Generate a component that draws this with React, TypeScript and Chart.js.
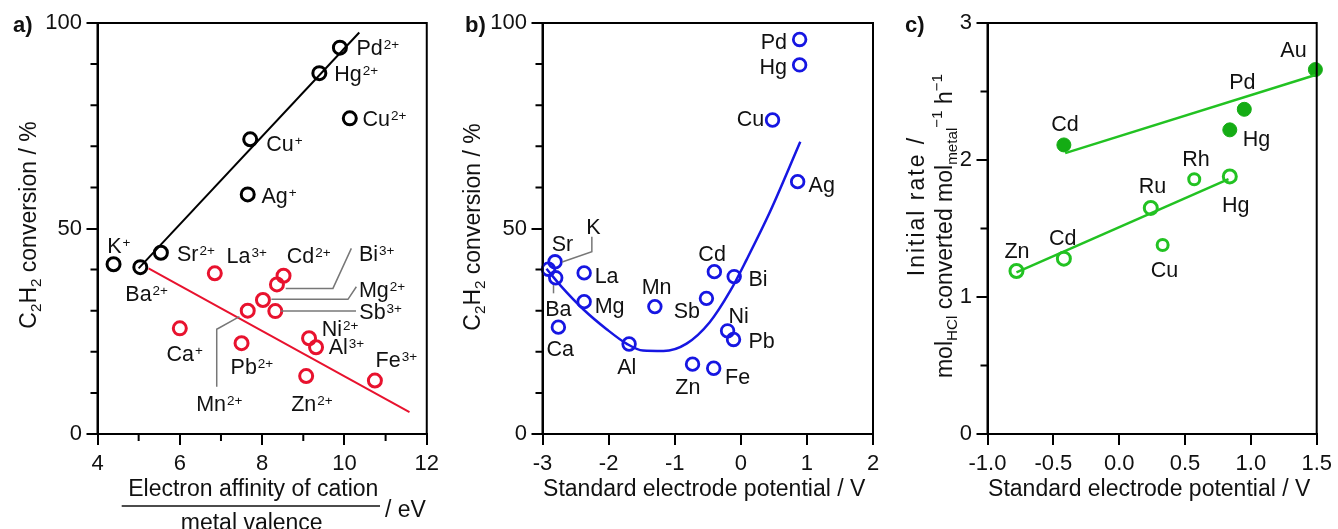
import React, { useEffect, useRef } from 'react';
import { Chart, registerables } from 'chart.js';

Chart.register(...registerables);

const FONT = "'Liberation Sans', Arial, Helvetica, sans-serif";
const RED = '#e8122e';
const BLUE = '#1616e2';
const GREEN = '#22c222';
const GREEN_FILL = '#14ac14';
const INK = '#111111';

// ---------------- Panel a data ----------------
const aBlackNames = ['Pd', 'Hg', 'Cu', 'Cu', 'Ag', 'Sr', 'K', 'Ba'];
const aBlackCharges = ['2+', '2+', '2+', '+', '+', '2+', '+', '2+'];
const aBlackX = [9.89, 9.39, 10.13, 7.71, 7.65, 5.54, 4.39, 5.04];
const aBlackY = [94.0, 87.8, 76.8, 71.7, 58.3, 44.1, 41.3, 40.6];

const aRedNames = ['La', 'Cd', 'Bi', 'Mg', 'Mn', 'Sb', 'Ca', 'Ni', 'Al', 'Pb', 'Zn', 'Fe'];
const aRedCharges = ['3+', '2+', '3+', '2+', '2+', '3+', '+', '2+', '3+', '2+', '2+', '3+'];
const aRedX = [6.85, 8.52, 8.36, 8.02, 7.65, 8.32, 6.0, 9.14, 9.31, 7.5, 9.07, 10.74];
const aRedY = [39.1, 38.5, 36.4, 32.6, 30.0, 29.9, 25.7, 23.3, 21.1, 22.1, 14.1, 13.0];

const aBlackFitX = [5.0, 10.36];
const aBlackFitY = [40.3, 97.7];
const aRedFitX = [5.24, 11.58];
const aRedFitY = [40.3, 5.3];

const aXTickLabels = [4, 6, 8, 10, 12];
const aXMinorTicks = [5, 7, 9, 11];
const convYTickLabels = [0, 50, 100];
const convYMinorTicks = [10, 20, 30, 40, 60, 70, 80, 90];

// ---------------- Panel b data ----------------
const bNames = ['Pd', 'Hg', 'Cu', 'Ag', 'Sr', 'K', 'Ba', 'La', 'Mg', 'Ca', 'Al', 'Mn', 'Sb', 'Cd', 'Bi', 'Ni', 'Pb', 'Zn', 'Fe'];
const bX = [0.89, 0.89, 0.48, 0.86, -2.81, -2.91, -2.80, -2.37, -2.37, -2.76, -1.69, -1.30, -0.52, -0.40, -0.10, -0.20, -0.11, -0.73, -0.41];
const bY = [96.0, 89.8, 76.4, 61.4, 41.9, 40.1, 38.0, 39.2, 32.2, 26.0, 21.9, 31.0, 33.0, 39.5, 38.3, 25.1, 23.0, 17.0, 16.0];

const bCurveX = [-2.94, -2.71, -2.38, -2.03, -1.73, -1.48, -1.17, -0.82, -0.47, -0.16, 0.09, 0.44, 0.90];
const bCurveY = [40.2, 35.8, 30.3, 25.5, 22.0, 20.3, 20.2, 22.0, 27.2, 34.8, 42.5, 54.0, 71.1];

const bXTickLabels = [-3, -2, -1, 0, 1, 2];

// ---------------- Panel c data ----------------
const cFilledNames = ['Au', 'Pd', 'Hg', 'Cd'];
const cFilledX = [1.49, 0.95, 0.84, -0.42];
const cFilledY = [2.66, 2.37, 2.22, 2.11];
const cOpenNames = ['Hg', 'Rh', 'Ru', 'Cu', 'Cd', 'Zn'];
const cOpenX = [0.84, 0.57, 0.24, 0.33, -0.42, -0.78];
const cOpenY = [1.88, 1.86, 1.65, 1.38, 1.28, 1.19];

const cFilledFitX = [-0.41, 1.49];
const cFilledFitY = [2.05, 2.62];
const cOpenFitX = [-0.78, 0.83];
const cOpenFitY = [1.18, 1.86];

const cXTickLabels = [-1.0, -0.5, 0.0, 0.5, 1.0, 1.5];
const cYTickLabels = [0, 1, 2, 3];
const cYMinorTicks = [0.5, 1.5, 2.5];

// ---------------- label layout (pixel offsets from the point) ----------------
type Lab = [number, number, string];
const aBlackLabelPos: Lab[] = [
  [16.6, 0, 'left'], [15, 0.5, 'left'], [12.6, 0, 'left'], [16, 4, 'left'],
  [13.7, 0.7, 'left'], [16, 0.6, 'left'], [-6.4, -19.3, 'left'], [-15, 26.2, 'left'],
];
const aRedLabelPos: Lab[] = [
  [11.7, -18.3, 'left'], [3.3, -20.7, 'left'], [82, -31, 'left'], [96, -10.7, 'left'],
  [-51.6, 92.6, 'left'], [84, 0, 'left'], [-13.3, 25, 'left'], [12.7, -10, 'left'],
  [12.6, -0.6, 'left'], [-11, 23.4, 'left'], [-15, 27.3, 'left'], [0.7, -21.4, 'left'],
];
const aRedLeaders: Record<number, number[][]> = {
  2: [[74.4, -36], [56, 4], [8.7, 4]],
  3: [[93.4, -13.3], [85, -0.7], [8.4, -0.7]],
  4: [[-31, 76], [-31, 18.6], [-8.3, 6]],
  5: [[80.7, 0], [5.7, 0]],
};
const bLabelPos: Lab[] = [
  [-12.7, 2.3, 'right'], [-12.7, 1.8, 'right'], [-8.4, -1.7, 'right'], [10.9, 2.7, 'left'],
  [-3.3, -18.4, 'left'], [37.7, -42.5, 'left'], [-10.5, 30.5, 'left'], [10.5, 2.1, 'left'],
  [10.5, 3.3, 'left'], [-11.8, 21.2, 'left'], [-11.9, 22.7, 'left'], [-13.2, -19.9, 'left'],
  [-6.4, 11.6, 'right'], [-16, -18.4, 'left'], [14.2, 1.7, 'left'], [0.8, -15.8, 'left'],
  [14.9, 0.5, 'left'], [-17.3, 22.6, 'left'], [11.4, 8.5, 'left'],
];
const bLeaders: Record<number, number[][]> = {
  5: [[43.4, -32.5], [43.4, -17.5], [13.7, -7.2]],
  6: [[-2.2, 7.2], [-2.2, 15.5]],
};
const cFilledLabelPos: Lab[] = [[-8.8, -20, 'right'], [-15, -28, 'left'], [13, 8, 'left'], [-12.7, -22, 'left']];
const cOpenLabelPos: Lab[] = [[-7.7, 28.3, 'left'], [-12, -21, 'left'], [-12, -23, 'left'], [-12, 24, 'left'], [-15, -21, 'left'], [-12, -21, 'left']];
const cOpenRadii = [6.5, 5.5, 6.5, 5.5, 6.5, 6.5];

// ---------------- drawing helpers ----------------
function pts(xs: number[], ys: number[]) {
  return xs.map((x, i) => ({ x, y: ys[i] }));
}

function drawIon(ctx: CanvasRenderingContext2D, name: string, charge: string, x: number, y: number, align: string) {
  const base = 21.5;
  const sup = 13.5;
  ctx.font = `${base}px ${FONT}`;
  const w1 = ctx.measureText(name).width;
  ctx.font = `${sup}px ${FONT}`;
  const w2 = charge ? ctx.measureText(charge).width + 1 : 0;
  const total = w1 + w2;
  const x0 = align === 'right' ? x - total : x;
  const baseline = y + base * 0.358;
  ctx.fillStyle = INK;
  ctx.textBaseline = 'alphabetic';
  ctx.textAlign = 'left';
  ctx.font = `${base}px ${FONT}`;
  ctx.fillText(name, x0, baseline);
  if (charge) {
    ctx.font = `${sup}px ${FONT}`;
    ctx.fillText(charge, x0 + w1 + 1, baseline - 6);
  }
}

type Run = [string, string];
function drawRuns(ctx: CanvasRenderingContext2D, runs: Run[], cx: number, cy: number, size: number, rot: number, spacing = 0) {
  const small = size * 0.66;
  ctx.save();
  ctx.translate(cx, cy);
  ctx.rotate(rot);
  ctx.fillStyle = INK;
  ctx.textBaseline = 'alphabetic';
  ctx.textAlign = 'left';
  (ctx as any).letterSpacing = `${spacing}px`;
  const widths = runs.map(([t, k]) => {
    ctx.font = `${k === 'n' ? size : small}px ${FONT}`;
    return ctx.measureText(t).width;
  });
  const total = widths.reduce((a, b) => a + b, 0);
  let x = -total / 2;
  const bl = size * 0.358;
  runs.forEach(([t, k], i) => {
    ctx.font = `${k === 'n' ? size : small}px ${FONT}`;
    const dy = k === 'sub' ? size * 0.24 : k === 'sup' ? -size * 0.42 : 0;
    ctx.fillText(t, x, bl + dy);
    x += widths[i];
  });
  ctx.restore();
}

function drawFrame(chart: any, xMinor: number[], yMinor: number[]) {
  const ctx = chart.ctx as CanvasRenderingContext2D;
  const a = chart.chartArea;
  ctx.strokeStyle = '#000';
  ctx.lineWidth = 2;
  ctx.strokeRect(a.left, a.top, a.right - a.left, a.bottom - a.top);
  ctx.beginPath();
  xMinor.forEach((v) => {
    const px = chart.scales.x.getPixelForValue(v);
    ctx.moveTo(px, a.bottom);
    ctx.lineTo(px, a.bottom + 7);
  });
  yMinor.forEach((v) => {
    const py = chart.scales.y.getPixelForValue(v);
    ctx.moveTo(a.left, py);
    ctx.lineTo(a.left - 7, py);
  });
  ctx.stroke();
}

function drawLabels(chart: any, ds: number, names: string[], charges: string[] | null, pos: Lab[]) {
  const meta = chart.getDatasetMeta(ds);
  meta.data.forEach((el: any, i: number) => {
    const [dx, dy, al] = pos[i];
    drawIon(chart.ctx, names[i], charges ? charges[i] : '', el.x + dx, el.y + dy, al);
  });
}

function drawLeaders(chart: any, ds: number, leaders: Record<number, number[][]>) {
  const ctx = chart.ctx as CanvasRenderingContext2D;
  const meta = chart.getDatasetMeta(ds);
  ctx.strokeStyle = '#777';
  ctx.lineWidth = 1.5;
  Object.keys(leaders).forEach((k) => {
    const el = meta.data[Number(k)];
    const path = leaders[Number(k)];
    ctx.beginPath();
    path.forEach(([dx, dy], j) => {
      if (j === 0) ctx.moveTo(el.x + dx, el.y + dy);
      else ctx.lineTo(el.x + dx, el.y + dy);
    });
    ctx.stroke();
  });
}

function drawPanelLetter(ctx: CanvasRenderingContext2D, t: string, x: number) {
  ctx.font = `bold 22px ${FONT}`;
  ctx.fillStyle = INK;
  ctx.textAlign = 'left';
  ctx.textBaseline = 'alphabetic';
  ctx.fillText(t, x, 32);
}

function makeScale(min: number, max: number, values: number[], fmt: (v: number) => string, isX: boolean) {
  return {
    type: 'linear',
    min,
    max,
    afterBuildTicks: (scale: any) => {
      scale.ticks = values.map((v) => ({ value: v }));
    },
    afterFit: (scale: any) => {
      if (isX) scale.height = 95;
      else scale.width = 97.5;
    },
    ticks: {
      font: { family: FONT, size: 22 },
      color: INK,
      padding: isX ? 6 : 4.5,
      autoSkip: false,
      maxRotation: 0,
      minRotation: 0,
      callback: (v: any) => fmt(Number(v)),
    },
    grid: { drawOnChartArea: false, drawTicks: true, tickLength: 11, color: '#000', lineWidth: 2 },
    border: { display: true, color: '#000', width: 2 },
  };
}

function baseOptions(x: any, y: any, right: number) {
  return {
    responsive: false,
    animation: false,
    events: [],
    layout: { padding: { top: 23, right, left: 0, bottom: 0 } },
    plugins: { legend: { display: false }, tooltip: { enabled: false } },
    scales: { x, y },
  };
}

const lineDs = (data: any[], color: string, width: number, extra: any = {}) => ({
  data,
  showLine: true,
  borderColor: color,
  borderWidth: width,
  pointRadius: 0,
  fill: false,
  clip: false,
  ...extra,
});

const pointDs = (data: any[], color: string, radius: any, bw: number, fillColor = 'rgba(0,0,0,0)') => ({
  data,
  showLine: false,
  borderColor: color,
  backgroundColor: fillColor,
  pointRadius: radius,
  pointBorderWidth: bw,
  pointBackgroundColor: fillColor,
  pointBorderColor: color,
  clip: false,
});

function configA() {
  const deco = {
    id: 'decoA',
    afterDraw(chart: any) {
      const ctx = chart.ctx as CanvasRenderingContext2D;
      ctx.save();
      drawFrame(chart, aXMinorTicks, convYMinorTicks);
      drawLeaders(chart, 3, aRedLeaders);
      drawLabels(chart, 2, aBlackNames, aBlackCharges, aBlackLabelPos);
      drawLabels(chart, 3, aRedNames, aRedCharges, aRedLabelPos);
      drawRuns(ctx, [['C', 'n'], ['2', 'sub'], ['H', 'n'], ['2', 'sub'], [' conversion / %', 'n']], 27.7, 225, 23, -Math.PI / 2);
      // fraction title
      ctx.fillStyle = INK;
      ctx.font = `23px ${FONT}`;
      ctx.textAlign = 'center';
      ctx.textBaseline = 'alphabetic';
      ctx.fillText('Electron affinity of cation', 253.3, 487.3 + 23 * 0.358);
      ctx.fillText('metal valence', 251.7, 521.7 + 23 * 0.358);
      ctx.textAlign = 'left';
      ctx.fillText('/ eV', 385, 508.3 + 23 * 0.358);
      ctx.strokeStyle = '#111';
      ctx.lineWidth = 1.5;
      ctx.beginPath();
      ctx.moveTo(121.7, 506);
      ctx.lineTo(380, 506);
      ctx.stroke();
      drawPanelLetter(ctx, 'a)', 13);
      ctx.restore();
    },
  };
  return {
    type: 'scatter',
    data: {
      datasets: [
        lineDs(pts(aBlackFitX, aBlackFitY), '#000', 2),
        lineDs(pts(aRedFitX, aRedFitY), RED, 2),
        pointDs(pts(aBlackX, aBlackY), '#000', 6.5, 3),
        pointDs(pts(aRedX, aRedY), RED, 6.5, 3),
      ],
    },
    options: baseOptions(
      makeScale(4, 12, aXTickLabels, (v) => String(v), true),
      makeScale(0, 100, convYTickLabels, (v) => String(v), false),
      17,
    ),
    plugins: [deco],
  };
}

function configB() {
  const deco = {
    id: 'decoB',
    afterDraw(chart: any) {
      const ctx = chart.ctx as CanvasRenderingContext2D;
      ctx.save();
      drawFrame(chart, [], convYMinorTicks);
      drawLeaders(chart, 1, bLeaders);
      drawLabels(chart, 1, bNames, null, bLabelPos);
      drawRuns(ctx, [['C', 'n'], ['2', 'sub'], ['H', 'n'], ['2', 'sub'], [' conversion / %', 'n']], 26.7, 227, 23, -Math.PI / 2);
      drawRuns(ctx, [['Standard electrode potential / V', 'n']], 259.2, 488, 23, 0);
      drawPanelLetter(ctx, 'b)', 20);
      ctx.restore();
    },
  };
  return {
    type: 'scatter',
    data: {
      datasets: [
        lineDs(pts(bCurveX, bCurveY), BLUE, 2.5, { cubicInterpolationMode: 'monotone' }),
        pointDs(pts(bX, bY), BLUE, 6.3, 2.8),
      ],
    },
    options: baseOptions(
      makeScale(-3, 2, bXTickLabels, (v) => String(v), true),
      makeScale(0, 100, convYTickLabels, (v) => String(v), false),
      17,
    ),
    plugins: [deco],
  };
}

function configC() {
  const deco = {
    id: 'decoC',
    afterDraw(chart: any) {
      const ctx = chart.ctx as CanvasRenderingContext2D;
      ctx.save();
      drawFrame(chart, [], cYMinorTicks);
      drawLabels(chart, 2, cFilledNames, null, cFilledLabelPos);
      drawLabels(chart, 3, cOpenNames, null, cOpenLabelPos);
      drawRuns(ctx, [['Initial rate /', 'n']], 25.7, 206, 23, -Math.PI / 2, 2);
      drawRuns(
        ctx,
        [['mol', 'n'], ['HCl', 'sub'], [' converted mol', 'n'], ['metal', 'sub'], ['\u22121', 'sup'], [' h', 'n'], ['\u22121', 'sup']],
        53.3,
        226,
        23,
        -Math.PI / 2,
      );
      drawRuns(ctx, [['Standard electrode potential / V', 'n']], 259.2, 488, 23, 0);
      drawPanelLetter(ctx, 'c)', 15);
      ctx.restore();
    },
  };
  return {
    type: 'scatter',
    data: {
      datasets: [
        lineDs(pts(cFilledFitX, cFilledFitY), GREEN, 2.5),
        lineDs(pts(cOpenFitX, cOpenFitY), GREEN, 2.5),
        pointDs(pts(cFilledX, cFilledY), GREEN_FILL, 7, 1, GREEN_FILL),
        pointDs(pts(cOpenX, cOpenY), GREEN, cOpenRadii, 3),
      ],
    },
    options: baseOptions(
      makeScale(-1, 1.5, cXTickLabels, (v) => v.toFixed(1), true),
      makeScale(0, 3, cYTickLabels, (v) => String(v), false),
      20,
    ),
    plugins: [deco],
  };
}

export default function App() {
  const refA = useRef<HTMLCanvasElement>(null);
  const refB = useRef<HTMLCanvasElement>(null);
  const refC = useRef<HTMLCanvasElement>(null);

  useEffect(() => {
    const charts = [
      new Chart(refA.current as HTMLCanvasElement, configA() as any),
      new Chart(refB.current as HTMLCanvasElement, configB() as any),
      new Chart(refC.current as HTMLCanvasElement, configC() as any),
    ];
    return () => charts.forEach((c) => c.destroy());
  }, []);

  const box = (left: number, width: number): React.CSSProperties => ({ position: 'absolute', left, top: 0, width, height: 529 });

  return (
    <div style={{ position: 'absolute', left: 0, top: 0, width: 1338, height: 529, background: '#fff', overflow: 'hidden' }}>
      <div style={box(0, 445)}>
        <canvas ref={refA} width={445} height={529} style={{ width: 445, height: 529, display: 'block' }} />
      </div>
      <div style={box(445, 445)}>
        <canvas ref={refB} width={445} height={529} style={{ width: 445, height: 529, display: 'block' }} />
      </div>
      <div style={box(890, 448)}>
        <canvas ref={refC} width={448} height={529} style={{ width: 448, height: 529, display: 'block' }} />
      </div>
    </div>
  );
}
